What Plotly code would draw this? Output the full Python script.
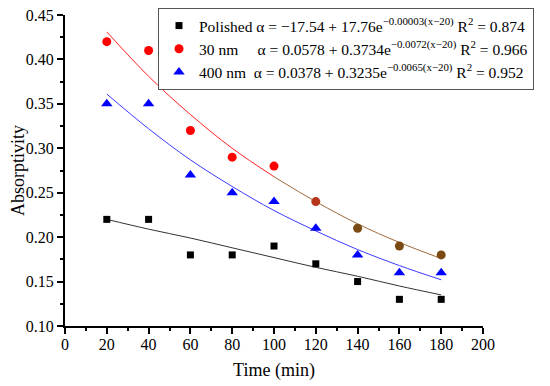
import plotly.graph_objects as go

time_min = [20, 40, 60, 80, 100, 120, 140, 160, 180]
polished = [0.22, 0.22, 0.18, 0.18, 0.19, 0.17, 0.15, 0.13, 0.13]
nm30 = [0.42, 0.41, 0.32, 0.29, 0.28, 0.24, 0.21, 0.19, 0.18]
nm400 = [0.35, 0.35, 0.27, 0.25, 0.24, 0.21, 0.18, 0.16, 0.16]

# fitted curves
fit_polished = [0.220, 0.209, 0.199, 0.188, 0.177, 0.166, 0.156, 0.145, 0.135]
fit_30 = [0.431, 0.381, 0.338, 0.300, 0.268, 0.240, 0.215, 0.194, 0.176]
fit_400 = [0.361, 0.322, 0.287, 0.257, 0.230, 0.207, 0.186, 0.168, 0.152]

nm30_colors = ["#ff0000"] * 5 + ["#b5361a", "#7b4a12", "#7b4a12", "#7b4a12"]

NB = "\u00a0"
leg_pol = "Polished α = −17.54 + 17.76e<sup>−0.00003(x−20)</sup> R<sup>2</sup> = 0.874"
leg_30 = "30 nm" + NB * 5 + "α = 0.0578 + 0.3734e<sup>−0.0072(x−20)</sup> R<sup>2</sup> = 0.966"
leg_400 = "400 nm" + NB * 2 + "α = 0.0378 + 0.3235e<sup>−0.0065(x−20)</sup> R<sup>2</sup> = 0.952"

fig = go.Figure()
fig.add_trace(go.Scatter(x=time_min, y=fit_polished, mode="lines", line=dict(color="#333333", width=1, shape="spline"), showlegend=False, hoverinfo="skip"))
fig.add_trace(go.Scatter(x=time_min[:5], y=fit_30[:5], mode="lines", line=dict(color="#ff2020", width=1, shape="spline"), showlegend=False, hoverinfo="skip"))
fig.add_trace(go.Scatter(x=time_min[4:], y=fit_30[4:], mode="lines", line=dict(color="#a0683a", width=1, shape="spline"), showlegend=False, hoverinfo="skip"))
fig.add_trace(go.Scatter(x=time_min, y=fit_400, mode="lines", line=dict(color="#3a3aff", width=1, shape="spline"), showlegend=False, hoverinfo="skip"))

fig.add_trace(go.Scatter(x=time_min, y=polished, mode="markers", name=leg_pol,
                         marker=dict(symbol="square", size=7, color="#000000")))
fig.add_trace(go.Scatter(x=time_min, y=nm30, mode="markers", name=leg_30,
                         marker=dict(symbol="circle", size=9, color=nm30_colors)))
fig.add_trace(go.Scatter(x=time_min, y=nm400, mode="markers", name=leg_400,
                         marker=dict(symbol="triangle-up", size=10, color="#0000ff")))

# page body adds an 8px offset; compensate
OFF = 8
W, H = 550 - OFF, 386 - OFF
font = dict(family="Liberation Serif", size=16, color="#000000")
fig.update_layout(
    width=W, height=H,
    margin=dict(l=0, r=0, t=0, b=0),
    paper_bgcolor="white", plot_bgcolor="white",
    font=font,
    showlegend=True,
    legend=dict(x=(158 - OFF) / W, y=1.0, xanchor="left", yanchor="top",
                bgcolor="white", bordercolor="#555555", borderwidth=1,
                font=dict(family="Liberation Serif", size=15.5, color="#000000"),
                tracegroupgap=0),
    xaxis=dict(domain=[(65 - OFF) / W, (483 - OFF) / W], automargin=False,
               range=[0, 200], dtick=20, tick0=0, showgrid=False, zeroline=False,
               showline=True, linecolor="black", linewidth=2,
               ticks="outside", ticklen=6, tickwidth=1.5, tickcolor="black",
               ticklabelstandoff=-3, ticklabeloverflow="allow",
               minor=dict(dtick=10, ticks="outside", ticklen=3, tickcolor="black", tickwidth=1.5),
               title=dict(text="Time (min)", font=dict(family="Liberation Serif", size=18), standoff=11)),
    yaxis=dict(domain=[1 - (326 - OFF) / H, 1 - (15 - OFF) / H], automargin=False,
               range=[0.10, 0.45], dtick=0.05, tick0=0.10, tickformat=".2f", showgrid=False, zeroline=False,
               showline=True, linecolor="black", linewidth=2,
               ticks="outside", ticklen=6, tickwidth=1.5, tickcolor="black",
               ticklabeloverflow="allow",
               minor=dict(dtick=0.025, ticks="outside", ticklen=3, tickcolor="black", tickwidth=1.5),
               title=dict(text="Absorptivity", font=dict(family="Liberation Serif", size=18), standoff=9)),
)
fig.write_html("out.html")
